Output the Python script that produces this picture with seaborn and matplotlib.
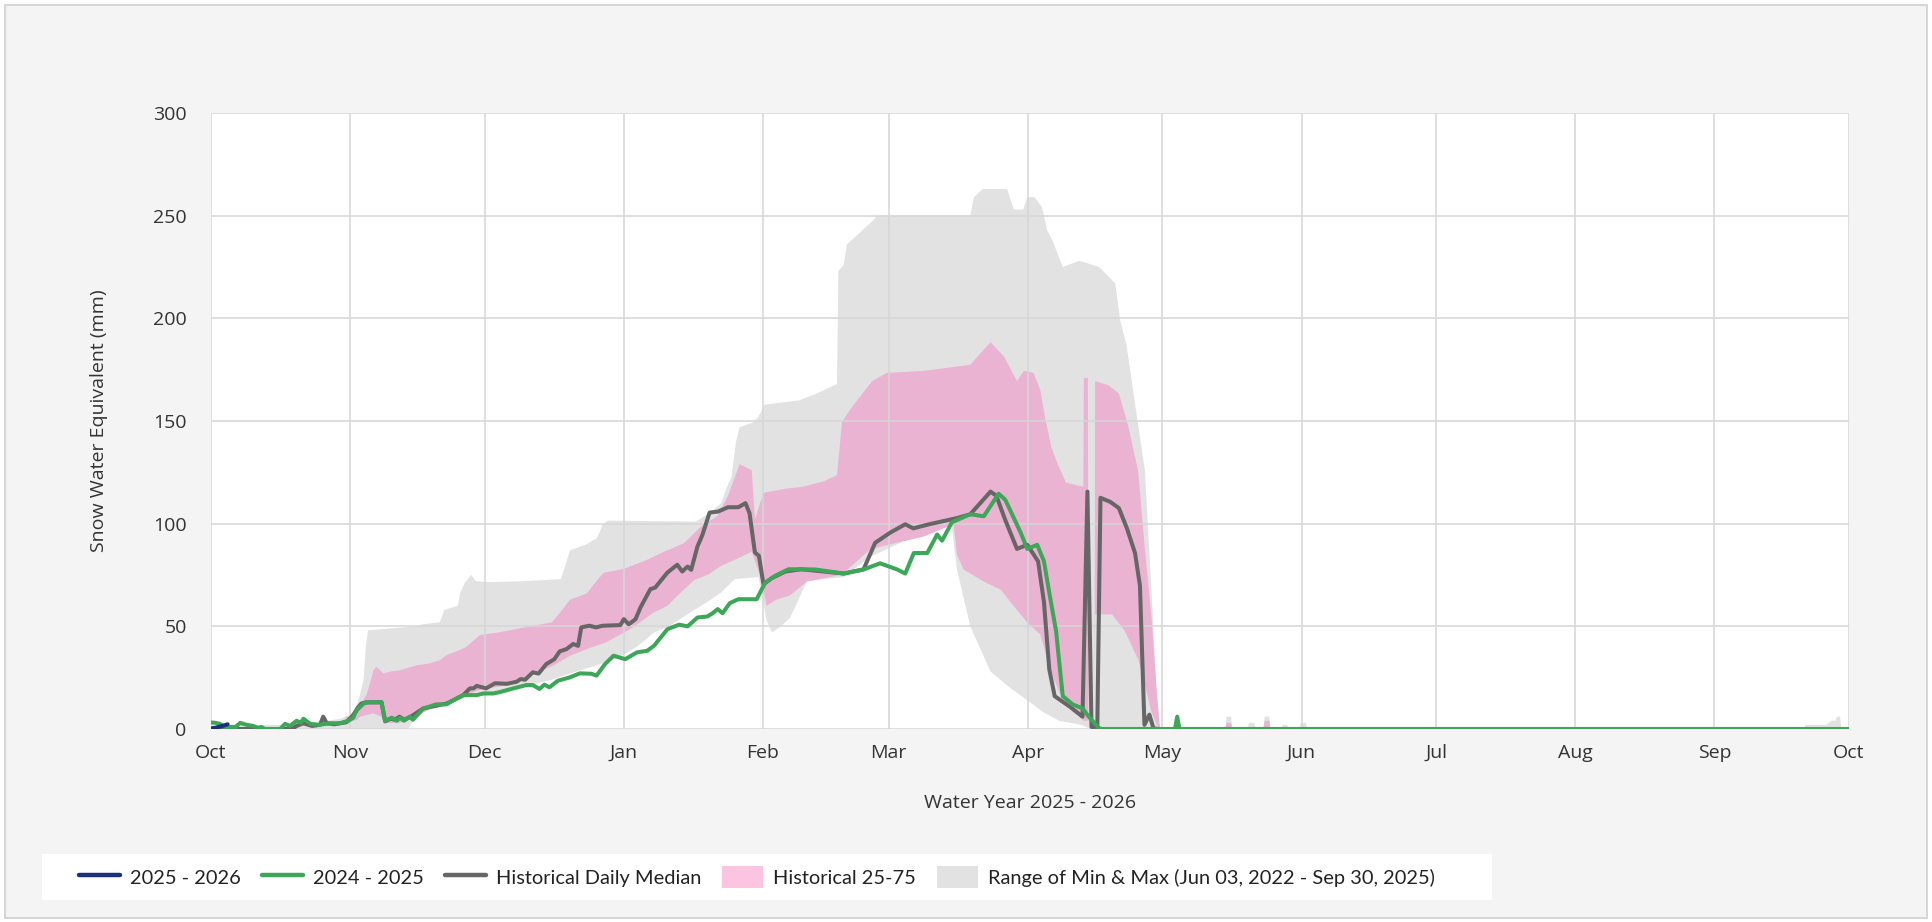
import numpy as np
import pandas as pd
import matplotlib
matplotlib.use("Agg")
import matplotlib.pyplot as plt
from matplotlib.lines import Line2D
from matplotlib.patches import Patch, Rectangle
import seaborn as sns

# day numbers count from Oct 1 of the water year
start = pd.Timestamp("2025-10-01")

max_days = [0, 18, 19, 26, 29, 31, 32, 33, 34, 34.5, 35, 40, 46, 47, 51, 52, 55, 55.5, 56.5, 58, 59, 62, 70,
            78, 80, 83.7, 86, 87.4, 88.5, 108, 111, 113.7, 115, 116, 117, 117.8, 120.5, 122, 123.4, 131, 134.6,
            139.5, 139.8, 141, 141.7, 143.2, 147.7, 148.4, 169.2, 170, 172, 177.4, 178.9, 181, 181.9, 183.5,
            185.2, 186.3, 187.5, 189.8, 191, 193.5, 197.9, 201.5, 202.6, 204, 206.6, 208.1, 209.9, 211, 212,
            226, 226.3, 227.3, 227.6, 231, 231.3, 232.5, 232.8, 234.5, 234.8, 235.8, 236.1, 238.5, 238.8,
            239.8, 240.1, 242.5, 242.8, 244, 244.3, 355, 355.3, 360, 361, 362, 362.3, 363, 363.3, 365]
max_vals = [2, 2, 3, 4, 5, 7, 9, 15, 24, 40, 48, 49, 50, 51, 52, 58, 60, 66, 71, 75, 72, 71.5, 72,
            73, 87, 90, 93, 100, 101.5, 101, 105, 110, 118, 123, 140, 147, 149, 152, 158, 160, 163,
            168, 223, 226, 236, 239, 248, 250, 250, 259, 263, 263, 253, 253, 259, 259,
            254, 243, 238, 225, 226, 228, 225, 217, 199, 187, 148, 126, 54, 2, 0,
            0, 6, 6, 0, 0, 3, 3, 0, 0, 6, 6, 0, 0, 2,
            2, 0, 0, 3, 3, 0, 0, 2, 2, 4, 4, 6, 6, 0, 0]

min_days = [0, 44, 45, 47, 50, 54, 57, 61, 65, 68.7, 76, 80, 87.4, 91, 94.9, 98.7, 102, 107.7, 110.7, 113.7,
            116.7, 122, 123.8, 125, 127, 129, 132.8, 141, 147, 151, 158.8, 165, 166.2, 169.2, 173.7, 178.1,
            181.9, 185.6, 189, 194, 196, 365]
min_vals = [0, 0, 4, 8, 11, 13, 15.5, 17, 18, 20, 24, 27, 32, 35, 40, 47, 50, 58, 62, 66.5,
            73, 74, 53, 47, 50, 54, 72, 74, 84, 88, 96, 100, 78, 50, 28, 20,
            14, 8, 4, 2, 0, 0]

p75_days = [0, 29.9, 30, 32.5, 33.2, 34.7, 35.4, 36.2, 36.9, 38.4, 40, 42.1, 45.8, 48.8, 51, 52.5, 55.4, 56.9,
            59.9, 64, 68.7, 76, 78.4, 80, 83.7, 87.4, 92, 97.2, 100.2, 105.4, 109.2, 112.9, 115.2, 117.8,
            120.5, 121.2, 123.1, 128, 132, 136.5, 139.5, 140.6, 142.4, 147.3, 150.6, 158.8, 169.2, 173.7,
            176.7, 179.6, 181.1, 183.3, 184.8, 186, 187.3, 188.5, 190.5, 194.4, 194.5, 195.4, 195.5, 196.9,
            197, 200, 202.3, 204.4, 206.6, 208.1, 209.6, 210.7, 211.4, 211.6, 226, 226.3, 227.3, 227.6,
            234.5, 234.8, 235.8, 236.1, 365]
p75_vals = [0, 0, 6, 6, 11, 17, 22, 28.6, 30.3, 27, 28, 28.6, 31, 32, 33.5, 36, 38.4, 40,
            45.7, 47, 49, 52, 58.4, 63, 66, 76, 78, 82.4, 85.6, 90.5, 98.6, 103.8, 113.5, 129,
            126, 102, 115, 117, 118, 120.6, 123.6, 149.5, 155.5, 169.4, 173.4, 174.4, 177.4, 188.4,
            181.4, 169.4, 174.4, 173.4, 165, 150, 137, 130, 120, 118, 171, 171, 4, 4,
            169.4, 167.4, 163.4, 147.5, 125.6, 87.7, 53.8, 20, 2, 0, 0, 3, 3, 0,
            0, 4, 4, 0, 0]

p25_days = [0, 29.9, 30, 32.5, 33.2, 36.2, 38, 38.8, 42, 43.6, 45.8, 47.3, 50, 54, 57, 60, 65, 68.7, 72,
            76.2, 80, 83.7, 88, 93.4, 98.7, 101.7, 104.7, 107.7, 110.7, 113.7, 116.7, 120.5, 122.7, 123.8,
            126, 129, 132.8, 139.5, 141, 147, 158.8, 165.5, 166.2, 167.7, 172.2, 176, 178.9, 181.9, 184.8,
            186.9, 189, 192, 194.4, 196.9, 197, 200.8, 203.6, 206.6, 208.1, 209.6, 211, 211.6, 365]
p25_vals = [0, 0, 3, 4.4, 6, 7.6, 6, 3, 3, 4.4, 6, 8, 11, 14, 17, 19, 21, 22.7, 27,
            30.8, 35.7, 38.9, 42.2, 48.6, 56.8, 60, 66.5, 72.6, 75.1, 79.5, 82.4, 86.4, 72.6, 60,
            63, 65, 71.8, 74.7, 76, 87.7, 93.7, 99.7, 85, 77.7, 71.8, 67.8, 59.8, 51.8, 46,
            30, 18, 10, 4, 4, 55.8, 55.8, 47.8, 33.9, 22, 8, 1, 0, 0]

median_days = [0, 18, 19.1, 20.6, 22.5, 24.3, 25, 25.8, 27.5, 30.2, 31.7, 32.6, 33.5, 34.5, 38, 38.8, 40, 41,
               42, 43, 44.5, 47.3, 49.5, 52.5, 54, 56.2, 57.7, 58.5, 59.2, 61.3, 63.3, 65.9, 68.1, 69, 70,
               71.7, 73, 74.7, 76.5, 77.7, 79.2, 80.7, 81.8, 82.5, 84.3, 85.8, 87.3, 91.2, 92, 93.1, 94.6,
               95.7, 97.9, 99, 101.7, 103.9, 105, 106.2, 107, 108.4, 109.5, 111.1, 113, 115.2, 117.5, 119.1,
               120, 121.2, 122.1, 123.1, 125, 128, 131.5, 141, 145.4, 148, 151.4, 154.7, 156.5, 160, 166.2,
               169.2, 173.7, 175, 177, 179.6, 181.9, 184.3, 185.6, 186.8, 188, 191.3, 194.2, 195.3, 196.2,
               197.5, 198.2, 200.4, 202.3, 204.1, 205.9, 207, 208, 209.1, 210, 211, 365]
median_vals = [0, 0, 1.5, 2.8, 1.5, 2, 6, 2.8, 2.3, 3.3, 6.8, 10, 12.4, 13, 13, 3.7, 5, 4.5,
               6, 4.5, 6, 10, 11, 12.4, 14, 16.5, 19.8, 19.8, 21, 19.8, 22.3, 22, 23, 24.3, 24,
               27.6, 27, 31.6, 34, 37.8, 38.9, 41.4, 40.5, 49.5, 50.3, 49.5, 50.3, 50.6, 53.5, 51, 53.5,
               59.2, 68.1, 68.9, 76.2, 80, 76.7, 79.1, 77.5, 88.9, 94.5, 105.4, 105.9, 108, 108, 110,
               105.1, 86, 84.3, 70.5, 73.5, 76.7, 77.8, 75.7, 77.7, 90.7, 95.7, 99.7, 97.7, 99.7, 102.7,
               104.6, 115.6, 113.6, 101.7, 87.7, 89.7, 81.7, 62, 29, 16, 11, 6, 115.6, 1,
               1, 112.6, 110.6, 107.6, 97.7, 85.7, 69.8, 2, 7, 0.4, 0, 0]

wy2024_days = [0, 1, 2, 3, 5.5, 6.5, 8, 9.4, 10.5, 11.2, 12, 15.4, 16.5, 17.6, 19.1, 20, 20.6, 22.1, 24, 26.5,
               28.7, 30.6, 31.7, 32.5, 34, 35, 38, 38.8, 40.3, 41.4, 42.1, 43, 44.3, 45, 47.3, 48.8, 50.2,
               52.5, 54, 56.2, 59.2, 60.7, 62.9, 64.4, 67.4, 70.3, 71.7, 73.2, 74.3, 75.4, 77.3, 79.9, 82.2,
               84.8, 85.9, 87.8, 89.7, 92.3, 94.9, 97.2, 98.7, 101.7, 104.3, 106.2, 108.4, 110.6, 111.8,
               112.9, 114, 115.6, 117.5, 121.6, 123.5, 125.7, 128.7, 134.6, 141, 145.4, 149.1, 152.9, 154.7,
               156.6, 159.6, 161.8, 162.9, 165.1, 169.2, 172.2, 175.5, 177, 180.4, 181.9, 184.1, 185.6, 187,
               188.3, 189.8, 192, 194.2, 195.6, 197.9, 198.5, 214.8, 215.3, 215.8, 365]
wy2024_vals = [3.2, 3, 2.5, 1, 1, 3, 2, 1.5, 0.5, 1, 0, 0, 2.5, 1.5, 4, 3, 5, 2.5, 2, 2.8,
               2.8, 4, 5.5, 9.2, 12.4, 13, 13, 4, 5.5, 4, 5.5, 4, 6, 4.5, 10, 11, 12,
               12, 14, 16.5, 16.5, 17.3, 17.3, 18, 19.8, 21.4, 21.4, 19.5, 21.6, 20.3, 23.5, 25.1, 27.1,
               26.9, 26, 31.6, 35.7, 34, 37.3, 38.1, 40.5, 48.6, 50.8, 50, 54.3, 54.8, 56.4,
               58.4, 56.4, 61.3, 63.2, 63.2, 71.3, 74.6, 77.8, 77.7, 75.7, 77.7, 80.7, 77.7, 75.7,
               85.7, 85.7, 94.7, 91.7, 100.7, 104.6, 103.6, 114.6, 111.6, 95.7, 87.7, 89.7, 81.7, 63.8,
               47.8, 16, 12, 10, 6, 0.4, 0, 0, 6, 0, 0]

wy2025_days = [0, 1, 2, 3, 3.7]
wy2025_vals = [0.3, 0.6, 1.2, 1.8, 2.3]

month_labels = ["Oct", "Nov", "Dec", "Jan", "Feb", "Mar", "Apr", "May", "Jun", "Jul", "Aug", "Sep", "Oct"]
y_ticks = [0, 50, 100, 150, 200, 250, 300]


def to_dates(days):
    return start + pd.to_timedelta(np.array(days, dtype=float), unit="D")


lines = pd.concat([
    pd.DataFrame({"date": to_dates(median_days), "swe": median_vals, "series": "Historical Daily Median"}),
    pd.DataFrame({"date": to_dates(wy2024_days), "swe": wy2024_vals, "series": "2024 - 2025"}),
    pd.DataFrame({"date": to_dates(wy2025_days), "swe": wy2025_vals, "series": "2025 - 2026"}),
], ignore_index=True)

colors = {"2025 - 2026": "#1b2f7e", "2024 - 2025": "#3da658", "Historical Daily Median": "#666666"}
band_grey = "#e2e2e2"
band_pink = "#ebb3d2"

sns.set_style("white")
plt.rcParams["font.family"] = ["Open Sans", "DejaVu Sans"]

fig = plt.figure(figsize=(19.33, 9.22), dpi=100, facecolor="white")
fig.patches.append(Rectangle((5 / 1933, 4 / 922), 1922 / 1933, 913 / 922, transform=fig.transFigure,
                             facecolor="#f4f4f4", edgecolor="#cfcfcf", lw=1.2, zorder=-10))
# white strip behind the legend
fig.patches.append(Rectangle((42 / 1933, 22 / 922), 1450 / 1933, 46 / 922, transform=fig.transFigure,
                             facecolor="white", edgecolor="none", zorder=-9))
ax = fig.add_axes([211 / 1933, (922 - 729) / 922, 1638 / 1933, 616 / 922])
ax.set_facecolor("white")

# min/max range and 25-75 band as polygons
ax.fill(np.concatenate([to_dates(max_days), to_dates(min_days)[::-1]]),
        np.concatenate([max_vals, min_vals[::-1]]), color=band_grey, lw=0, zorder=1)
ax.fill(np.concatenate([to_dates(p75_days), to_dates(p25_days)[::-1]]),
        np.concatenate([p75_vals, p25_vals[::-1]]), color=band_pink, lw=0, zorder=1.1)

sns.lineplot(data=lines, x="date", y="swe", hue="series", palette=colors, estimator=None, sort=False,
             lw=2.9, legend=False, ax=ax, zorder=3)

ax.set_xlim(start, start + pd.Timedelta(days=365))
ax.set_ylim(0, 300)
ax.set_yticks(y_ticks)
ax.set_xticks(pd.date_range(start, periods=13, freq="MS"))
ax.set_xticklabels(month_labels)
ax.grid(True, color="#d6d6d6", lw=1.1)
ax.set_axisbelow(False)
for s in ax.spines.values():
    s.set_visible(False)
ax.tick_params(axis="y", length=14, width=1.1, color="#d0d0d0", pad=3.5, labelsize=14, labelcolor="#333333")
ax.tick_params(axis="x", length=6, width=1.1, color="#d0d0d0", pad=5, labelsize=14, labelcolor="#333333")

ax.set_xlabel("Water Year 2025 - 2026", fontsize=14, color="#333333")
ax.xaxis.set_label_coords(0.5, -0.12)
ax.xaxis.label.set_va("center")
ax.set_ylabel("Snow Water Equivalent (mm)", fontsize=14, color="#333333")
ax.yaxis.set_label_coords(-0.0686, 0.5)
ax.yaxis.label.set_va("center")

handles = [
    Line2D([], [], color=colors["2025 - 2026"], lw=3.2),
    Line2D([], [], color=colors["2024 - 2025"], lw=3.2),
    Line2D([], [], color=colors["Historical Daily Median"], lw=3.2),
    Patch(facecolor="#fcc4e1", edgecolor="none"),
    Patch(facecolor=band_grey, edgecolor="none"),
]
labels = ["2025 - 2026", "2024 - 2025", "Historical Daily Median", "Historical 25-75",
          "Range of Min & Max (Jun 03, 2022 - Sep 30, 2025)"]
leg = fig.legend(handles, labels, loc="center left", bbox_to_anchor=(79 / 1933, 45 / 922), ncol=5,
                 frameon=False, prop={"family": ["Lato", "Open Sans"], "size": 14.4},
                 handlelength=2.05, handleheight=1.25, handletextpad=0.5, columnspacing=1.05,
                 borderpad=0, borderaxespad=0, labelcolor="#222222")

fig.savefig("out.png", dpi=100, facecolor="white")
